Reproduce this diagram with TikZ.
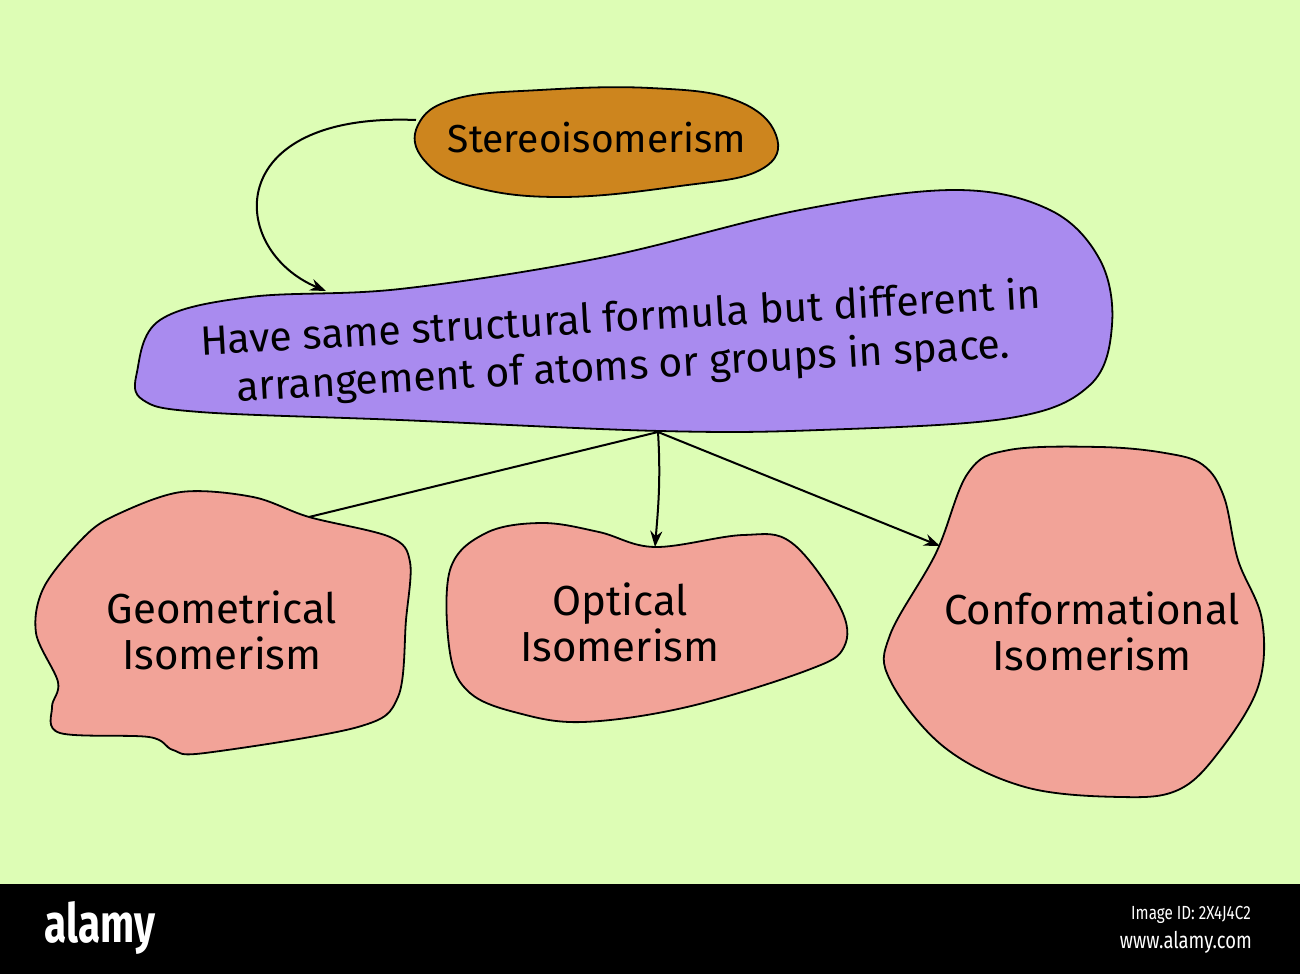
\documentclass[tikz,border=0pt]{standalone}
\usepackage{fontspec}
\setmainfont{Fira Sans}
\usetikzlibrary{arrows.meta}
\definecolor{bgc}{HTML}{DDFDB5}
\definecolor{orangec}{HTML}{CD851E}
\definecolor{purplec}{HTML}{A98BEF}
\definecolor{pinkc}{HTML}{F2A398}
\tikzset{
  blob/.style={draw=black, line width=1.8pt},
  lbl/.style={align=center, font=\fontsize{42}{46}\selectfont, text=black, inner sep=0pt},
  conn/.style={draw=black, line width=2pt},
  arr/.style={conn, -{Stealth[length=16pt,width=12pt]}},
}
\begin{document}
\begin{tikzpicture}[x=1pt,y=-1pt]
\useasboundingbox (0,0) rectangle (1300,974);
\fill[bgc] (0,0) rectangle (1300,974);
% bottom bar
\fill[black] (0,884) rectangle (1300,974);
\node[text=white, font=\fontsize{54}{54}\bfseries\selectfont, xscale=0.75, inner sep=0pt] (brand) at (100,928) {alamy};
\node[text=white, font=\fontsize{19}{19}\selectfont, xscale=0.8, anchor=east, inner sep=0pt] (imgid) at (1251,915) {Image ID: 2X4J4C2};
\node[text=white, font=\fontsize{23}{23}\selectfont, xscale=0.8, anchor=east, inner sep=0pt] (web) at (1252,942) {www.alamy.com};

% orange blob
\draw[blob, fill=orangec] plot[smooth cycle, tension=0.7] coordinates {
 (418,125) (455,99) (540,90) (650,88) (735,100) (776,135) (760,170) (680,186) (560,197) (470,186) (424,160)};
\node[lbl, font=\fontsize{39}{44}\selectfont] (stereo) at (597,138) {Stereoisomerism};
\coordinate (sOut) at (416,120);

% purple blob
\draw[blob, fill=purplec] plot[smooth cycle, tension=0.6] coordinates {
 (137,372) (160,320) (250,297) (400,289) (600,258) (800,210) (955,190) (1050,210) (1100,260) (1112,325) (1090,385) (1010,418) (820,430) (660,431) (400,420) (200,412) (143,400)};
\node[lbl, rotate=3.2, font=\fontsize{41}{48}\selectfont] (desc) at (622,344) {Have same structural formula but different in\\arrangement of atoms or groups in space.};
\coordinate (dIn) at (326,291);
\coordinate (dOut) at (658,432);

% geometrical blob
\draw[blob, fill=pinkc] plot[smooth cycle, tension=0.55] coordinates {
 (116,515) (181,492) (253,497) (309,517) (390,537) (410,562) (406,620) (398,697) (358,727) (205,753) (173,750) (149,737) (60,733) (52,707) (58,682) (36,633) (44,587) (84,537)};
\node[lbl] (geo) at (222,630) {Geometrical\\Isomerism};
\coordinate (gIn) at (309,517);

% optical blob
\draw[blob, fill=pinkc] plot[smooth cycle, tension=0.6] coordinates {
 (542,523) (599,532) (655,547) (743,535) (792,543) (840,607) (844,647) (808,670) (687,707) (583,722) (518,713) (470,693) (450,653) (450,570) (486,533)};
\node[lbl] (opt) at (620,622) {Optical\\Isomerism};
\coordinate (oIn) at (655,547);

% conformational blob
\draw[blob, fill=pinkc] plot[smooth cycle, tension=0.6] coordinates {
 (1009,450) (1100,447) (1165,453) (1203,465) (1224,497) (1238,560) (1262,620) (1258,687) (1218,753) (1178,790) (1121,797) (1025,787) (944,747) (890,680) (890,635) (936,553) (968,473)};
\node[lbl] (conf) at (1092,631) {Conformational\\Isomerism};
\coordinate (cIn) at (940,546);

% connectors
\draw[arr] (sOut) .. controls (220,112) and (228,250) .. (dIn);
\draw[conn] (dOut) -- (gIn);
\draw[arr] (dOut) .. controls (661,480) and (658,510) .. (oIn);
\draw[arr] (dOut) -- (cIn);
\end{tikzpicture}
\end{document}
